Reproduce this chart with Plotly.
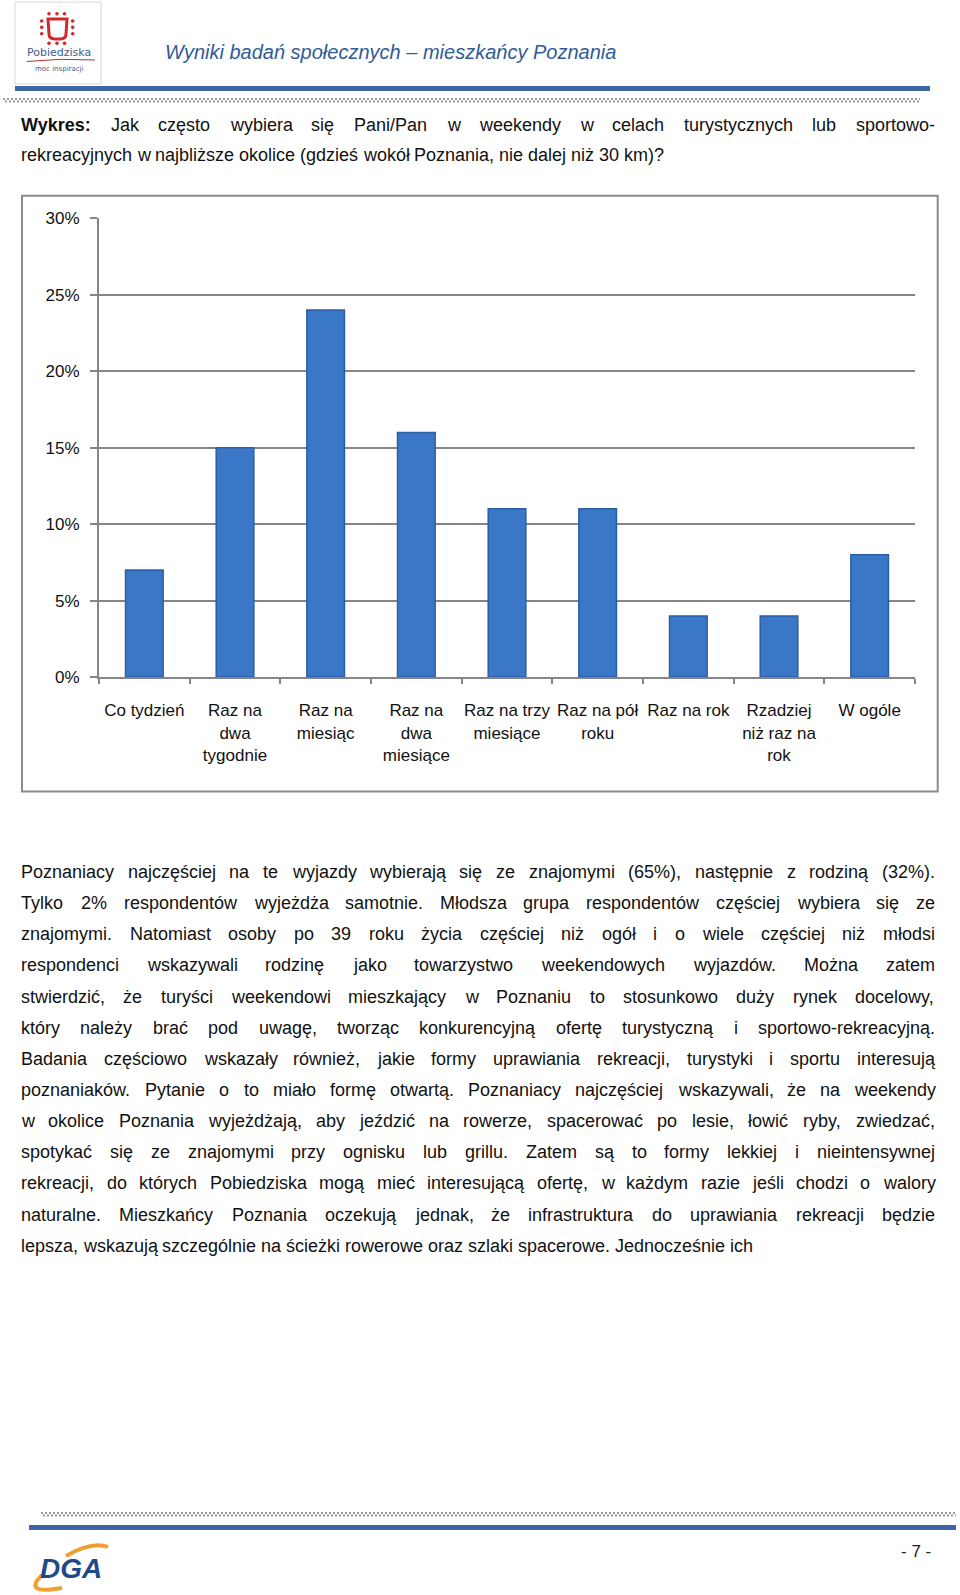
import plotly.graph_objects as go

# ---------------- data ----------------
categories = ["Co tydzień", "Raz na dwa tygodnie", "Raz na miesiąc", "Raz na dwa miesiące",
              "Raz na trzy miesiące", "Raz na pół roku", "Raz na rok",
              "Rzadziej niż raz na rok", "W ogóle"]
tick_labels = ["Co tydzień", "Raz na<br>dwa<br>tygodnie", "Raz na<br>miesiąc", "Raz na<br>dwa<br>miesiące",
               "Raz na trzy<br>miesiące", "Raz na pół<br>roku", "Raz na rok",
               "Rzadziej<br>niż raz na<br>rok", "W ogóle"]
values = [0.07, 0.15, 0.24, 0.16, 0.11, 0.11, 0.04, 0.04, 0.08]
y_ticks = [0, 0.05, 0.10, 0.15, 0.20, 0.25, 0.30]
y_tick_labels = ["0%", "5%", "10%", "15%", "20%", "25%", "30%"]

header_title = "Wyniki badań społecznych – mieszkańcy Poznania"
question_lines = [
    "Wykres: Jak często wybiera się Pani/Pan w weekendy w celach turystycznych lub sportowo-",
    "rekreacyjnych w najbliższe okolice (gdzieś wokół Poznania, nie dalej niż 30 km)?",
]
body_lines = [
    "Poznaniacy najczęściej na te wyjazdy wybierają się ze znajomymi (65%), następnie z rodziną (32%).",
    "Tylko 2% respondentów wyjeżdża samotnie. Młodsza grupa respondentów częściej wybiera się ze",
    "znajomymi. Natomiast osoby po 39 roku życia częściej niż ogół i o wiele częściej niż młodsi",
    "respondenci wskazywali rodzinę jako towarzystwo weekendowych wyjazdów. Można zatem",
    "stwierdzić, że turyści weekendowi mieszkający w Poznaniu to stosunkowo duży rynek docelowy,",
    "który należy brać pod uwagę, tworząc konkurencyjną ofertę turystyczną i sportowo-rekreacyjną.",
    "Badania częściowo wskazały również, jakie formy uprawiania rekreacji, turystyki i sportu interesują",
    "poznaniaków. Pytanie o to miało formę otwartą. Poznaniacy najczęściej wskazywali, że na weekendy",
    "w okolice Poznania wyjeżdżają, aby jeździć na rowerze, spacerować po lesie, łowić ryby, zwiedzać,",
    "spotykać się ze znajomymi przy ognisku lub grillu. Zatem są to formy lekkiej i nieintensywnej",
    "rekreacji, do których Pobiedziska mogą mieć interesującą ofertę, w każdym razie jeśli chodzi o walory",
    "naturalne. Mieszkańcy Poznania oczekują jednak, że infrastruktura do uprawiania rekreacji będzie",
    "lepsza, wskazują szczególnie na ścieżki rowerowe oraz szlaki spacerowe. Jednocześnie ich",
]
page_number = "- 7 -"

# ---------------- page geometry helpers ----------------
W, H = 960, 1595
def px(x): return x / W
def py(y):
    yc = y * (H + 16) / H - 8          # compensate page offset / vertical fit of the capture
    return 1 - yc / H

FONT = "Liberation Sans, Arial, sans-serif"

# Arial / Liberation Sans advance widths (per 1000 em)
REG = {" ": 278, ",": 278, ".": 278, "-": 333, "(": 333, ")": 333, "%": 889, "?": 556, ":": 278,
       "/": 278, "–": 556}
for c in "0123456789": REG[c] = 556
REG.update(dict(A=667, B=667, C=722, D=722, E=667, F=611, G=778, H=722, I=278, J=500, K=667, L=556,
                M=833, N=722, O=778, P=667, Q=778, R=722, S=667, T=611, U=722, V=667, W=944, X=667,
                Y=667, Z=611))
REG.update(dict(a=556, b=556, c=500, d=556, e=556, f=278, g=556, h=556, i=222, j=222, k=500, l=222,
                m=833, n=556, o=556, p=556, q=556, r=333, s=500, t=278, u=556, v=500, w=722, x=500,
                y=500, z=500))
REG.update({"ą": 556, "ć": 500, "ę": 556, "ł": 222, "ń": 556, "ó": 556, "ś": 500, "ź": 500, "ż": 500,
            "Ł": 556, "Ś": 667, "Ż": 611, "Ź": 611, "Ć": 722})
BOLD = dict(W=944, y=556, k=556, r=389, e=556, s=556)
BOLD[":"] = 333

def wwidth(word, bold=False):
    t = 0
    for ch in word:
        if bold and ch in BOLD:
            t += BOLD[ch]
        else:
            t += REG.get(ch, 556)
    return t / 1000.0

annotations = []
shapes = []

def place_line(line, y, x0, x1, fs, justify, bold_first=False, color="#111111"):
    words = line.split(" ")
    ws = [wwidth(w, bold=(bold_first and i == 0)) * fs for i, w in enumerate(words)]
    if justify and len(words) > 1:
        gap = (x1 - x0 - sum(ws)) / (len(words) - 1)
    else:
        gap = 0.278 * fs
    x = x0
    for i, (w, wd) in enumerate(zip(words, ws)):
        txt = f"<b>{w}</b>" if (bold_first and i == 0) else w
        annotations.append(dict(text=txt, x=px(x), y=py(y), xref="paper", yref="paper",
                                xanchor="left", yanchor="middle", showarrow=False, borderpad=0,
                                font=dict(family=FONT, size=fs, color=color)))
        x += wd + gap

def label(text, x, y, size, color="#111111", family=FONT, xanchor="center"):
    annotations.append(dict(text=text, x=px(x), y=py(y), xref="paper", yref="paper",
                            xanchor=xanchor, yanchor="middle", showarrow=False, borderpad=0,
                            font=dict(family=family, size=size, color=color)))

# body font size: fit the widest justified line (with a slightly tightened minimum word gap)
TX0, TX1 = 20, 934
nat = [sum(wwidth(w) for w in l.split(" ")) + 0.16 * (len(l.split(" ")) - 1) for l in body_lines[:-1]]
fs_body = min(18.0, (TX1 - TX0 - 2) / max(nat))

# question (title)
place_line(question_lines[0], 124, TX0, TX1, fs_body, True, bold_first=True)
place_line(question_lines[1], 154.5, TX0, TX1, fs_body, False)

# body paragraph
for i, line in enumerate(body_lines):
    place_line(line, 872.7 + 31.2 * i, TX0, TX1, fs_body, i < len(body_lines) - 1)

# ---------------- header ----------------
shapes.append(dict(type="rect", xref="paper", yref="paper", x0=px(15), x1=px(101), y0=py(83), y1=py(1),
                   line=dict(color="#D9D9D9", width=1), fillcolor="white", layer="below"))
# logo: red "table" with dots
shapes.append(dict(type="path", xref="paper", yref="paper",
                   path=f"M {px(48)} {py(18)} L {px(67)} {py(18)} L {px(66)} {py(33)} Q {px(66)} {py(38)} {px(60)} {py(38)} "
                        f"L {px(55)} {py(38)} Q {px(49)} {py(38)} {px(49)} {py(33)} Z",
                   line=dict(color="#D7262B", width=3), fillcolor="rgba(0,0,0,0)"))
dot_pts = [(49, 12.7), (57, 12.7), (64.5, 12.7), (49, 42.3), (57, 42.3), (64.5, 42.3),
           (41.7, 20), (41.7, 26.3), (41.7, 32.7), (72.7, 20), (72.7, 26.3), (72.7, 32.7)]
for (dx, dy) in dot_pts:
    shapes.append(dict(type="circle", xref="paper", yref="paper", x0=px(dx - 1.8), x1=px(dx + 1.8),
                       y0=py(dy + 1.8), y1=py(dy - 1.8), line=dict(width=0), fillcolor="#D7262B"))
label("Pobiedziska", 59, 52, 11, color="#3D5D8C", family="DejaVu Sans")
shapes.append(dict(type="path", xref="paper", yref="paper",
                   path=f"M {px(27)} {py(60.5)} Q {px(60)} {py(57)} {px(95)} {py(59)}",
                   line=dict(color="#B0302F", width=1)))
label("moc inspiracji", 59, 68, 7, color="#3D5D8C", family="DejaVu Sans")

label(f"<i>{header_title}</i>", 164, 51, 20, color="#2F5B98", xanchor="left")
shapes.append(dict(type="line", xref="paper", yref="paper", x0=px(15), x1=px(930), y0=py(87.5), y1=py(87.5),
                   line=dict(color="#3D66A2", width=5)))
for k, yy in enumerate([98, 100.5]):
    shapes.append(dict(type="line", xref="paper", yref="paper", x0=px(3 + 2 * k), x1=px(920), y0=py(yy), y1=py(yy),
                       line=dict(color="#9A9A9A", width=2, dash="2px,2px")))

# ---------------- footer ----------------
for k, yy in enumerate([1515, 1517.5]):
    shapes.append(dict(type="line", xref="paper", yref="paper", x0=px(41 + 2 * k), x1=px(956), y0=py(yy), y1=py(yy),
                       line=dict(color="#9A9A9A", width=2, dash="2px,2px")))
shapes.append(dict(type="line", xref="paper", yref="paper", x0=px(29), x1=px(956), y0=py(1529.5), y1=py(1529.5),
                   line=dict(color="#3D66A2", width=5)))
# DGA logo swoosh
shapes.append(dict(type="path", xref="paper", yref="paper",
                   path=f"M {px(66)} {py(1558)} Q {px(92)} {py(1543)} {px(108)} {py(1549)}",
                   line=dict(color="#F0A030", width=4)))
shapes.append(dict(type="path", xref="paper", yref="paper",
                   path=f"M {px(42)} {py(1577)} Q {px(22)} {py(1597)} {px(62)} {py(1590)}",
                   line=dict(color="#F0A030", width=4)))
label("<b><i>DGA</i></b>", 71, 1571, 28, color="#1F4A8A")
label(page_number, 916, 1554, 17, color="#222222")

# ---------------- chart frame ----------------
shapes.append(dict(type="rect", xref="paper", yref="paper", x0=px(22), x1=px(937.7), y0=py(792), y1=py(195),
                   line=dict(color="#8C8C8C", width=2), fillcolor="rgba(0,0,0,0)", layer="below"))

fig = go.Figure()
fig.add_trace(go.Bar(x=categories, y=values, marker=dict(color="#3A77C7", line=dict(color="#2A5EA6", width=1.5)),
                     width=0.415, hoverinfo="x+y"))

Y0, Y30 = 677.3, 217.7
fig.update_layout(
    width=W, height=H, margin=dict(l=0, r=0, t=0, b=0),
    paper_bgcolor="white", plot_bgcolor="white", showlegend=False,
    xaxis=dict(domain=[px(99), px(915)], type="category", tickvals=categories, ticktext=tick_labels,
               tickangle=0, showline=True, linecolor="#868686", linewidth=2, ticks="outside",
               tickson="boundaries", ticklen=5, tickcolor="#868686", tickwidth=1.5, showgrid=False,
               tickfont=dict(family=FONT, size=17, color="#111111"), ticklabelstandoff=17,
               fixedrange=True),
    yaxis=dict(domain=[py(Y0), py(Y30)], range=[0, 0.30], tickvals=y_ticks, ticktext=y_tick_labels,
               showline=True, linecolor="#868686", linewidth=2, ticks="outside", ticklen=7,
               tickcolor="#868686", tickwidth=1.5, showgrid=True, gridcolor="#868686", gridwidth=1.5,
               zeroline=False, tickfont=dict(family=FONT, size=17, color="#111111"), ticklabelstandoff=7,
               fixedrange=True),
    annotations=annotations, shapes=shapes,
)
fig.write_html("out.html")
